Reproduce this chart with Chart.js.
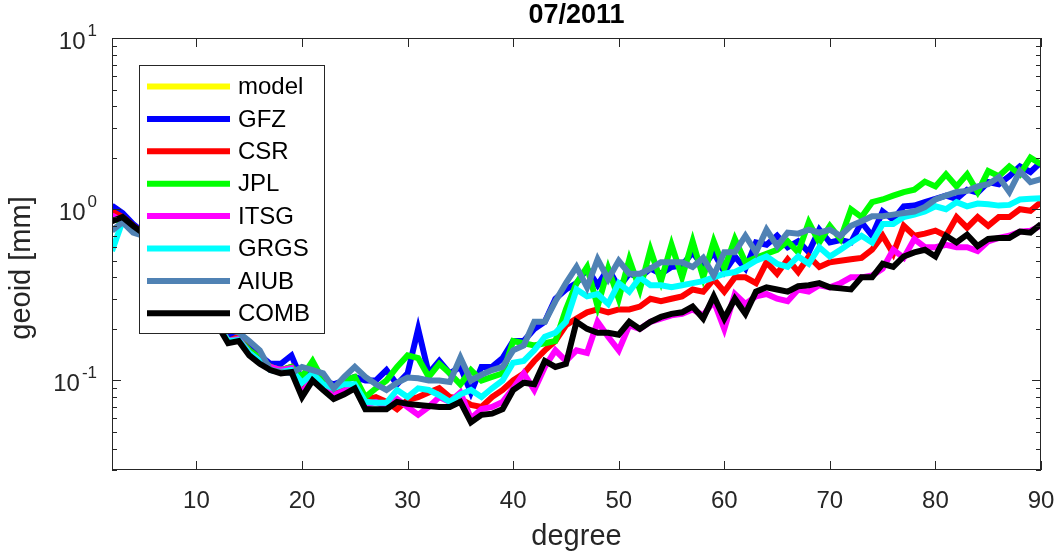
<!DOCTYPE html>
<html>
<head>
<meta charset="utf-8">
<script src="https://cdn.jsdelivr.net/npm/chart.js@4.4.0/dist/chart.umd.min.js"></script>
<style>
  html, body { margin: 0; padding: 0; background: #fff; }
</style>
</head>
<body>
<canvas id="geoid-chart" width="1056" height="556"></canvas>
<script>
// degree 2..90
const degrees = [
  2, 3, 4, 5, 6, 7, 8, 9,
  10, 11, 12, 13, 14, 15, 16, 17, 18, 19,
  20, 21, 22, 23, 24, 25, 26, 27, 28, 29,
  30, 31, 32, 33, 34, 35, 36, 37, 38, 39,
  40, 41, 42, 43, 44, 45, 46, 47, 48, 49,
  50, 51, 52, 53, 54, 55, 56, 57, 58, 59,
  60, 61, 62, 63, 64, 65, 66, 67, 68, 69,
  70, 71, 72, 73, 74, 75, 76, 77, 78, 79,
  80, 81, 82, 83, 84, 85, 86, 87, 88, 89,
  90
]

// model curve is not visible in the figure
const model = []

const gfz = [
  1.05, 0.95, 0.82, 0.73, 0.63, 0.53, 0.45, 0.38,
  0.32, 0.27, 0.22, 0.18, 0.185, 0.155, 0.14, 0.125, 0.125, 0.14,
  0.1, 0.115, 0.1, 0.095, 0.1, 0.105, 0.1, 0.1, 0.115, 0.095,
  0.11, 0.2, 0.11, 0.13, 0.11, 0.12, 0.085, 0.12, 0.12, 0.135,
  0.17, 0.17, 0.2, 0.22, 0.3, 0.34, 0.37, 0.45, 0.36, 0.45,
  0.35, 0.42, 0.4, 0.45, 0.42, 0.46, 0.47, 0.56, 0.46, 0.56,
  0.43, 0.53, 0.45, 0.64, 0.62, 0.7, 0.6, 0.65, 0.56, 0.76,
  0.64, 0.66, 0.64, 0.84, 0.7, 0.97, 0.87, 1.04, 1.05, 1.1,
  1.15, 1.2, 1.15, 1.3, 1.25, 1.44, 1.4, 1.56, 1.78, 1.65,
  1.88
]

const csr = [
  0.97, 0.9, 0.8, 0.72, 0.62, 0.52, 0.44, 0.37,
  0.31, 0.26, 0.22, 0.17, 0.18, 0.15, 0.135, 0.12, 0.115, 0.12,
  0.09, 0.11, 0.095, 0.085, 0.09, 0.095, 0.077, 0.08, 0.075, 0.068,
  0.077, 0.08, 0.085, 0.09, 0.08, 0.078, 0.072, 0.07, 0.08, 0.088,
  0.1, 0.11, 0.13, 0.15, 0.17, 0.21, 0.23, 0.25, 0.26, 0.25,
  0.26, 0.26, 0.27, 0.3, 0.29, 0.3, 0.31, 0.34, 0.33, 0.39,
  0.33, 0.4, 0.4, 0.37, 0.49, 0.42, 0.51, 0.43, 0.53, 0.46,
  0.49, 0.5, 0.51, 0.52, 0.58, 0.7, 0.55, 0.8, 0.7, 0.72,
  0.75, 0.7, 0.9, 0.78, 0.9, 0.8, 0.9, 0.9, 1.0, 0.98,
  1.1
]

const jpl = [
  0.88, 0.85, 0.78, 0.72, 0.62, 0.52, 0.44, 0.37,
  0.31, 0.26, 0.22, 0.17, 0.175, 0.15, 0.135, 0.12, 0.115, 0.12,
  0.105, 0.13, 0.1, 0.09, 0.1, 0.105, 0.08, 0.09, 0.1, 0.12,
  0.14, 0.135, 0.105, 0.125, 0.11, 0.095, 0.115, 0.1, 0.105, 0.11,
  0.17, 0.165, 0.16, 0.165, 0.17, 0.26, 0.37, 0.46, 0.27, 0.45,
  0.3, 0.51, 0.34, 0.58, 0.38, 0.62, 0.4, 0.65, 0.4, 0.65,
  0.45, 0.67, 0.49, 0.52, 0.55, 0.58, 0.65, 0.56, 0.84, 0.64,
  0.8, 0.67, 1.0, 0.9, 1.1, 1.14, 1.2, 1.26, 1.3, 1.45,
  1.36, 1.6, 1.36, 1.6, 1.26, 1.67, 1.56, 1.78, 1.6, 2.0,
  1.83
]

const itsg = [
  0.92, 0.85, 0.78, 0.72, 0.62, 0.52, 0.44, 0.37,
  0.31, 0.26, 0.215, 0.17, 0.175, 0.145, 0.13, 0.12, 0.115, 0.118,
  0.083, 0.105, 0.09, 0.082, 0.087, 0.092, 0.072, 0.075, 0.07, 0.078,
  0.07, 0.063, 0.07, 0.08, 0.075, 0.085, 0.06, 0.068, 0.07, 0.075,
  0.09, 0.11, 0.088, 0.12, 0.15, 0.13, 0.15, 0.145, 0.22, 0.18,
  0.15, 0.21, 0.2, 0.22, 0.23, 0.24, 0.245, 0.26, 0.24, 0.29,
  0.2, 0.32, 0.28, 0.31, 0.32, 0.3, 0.29, 0.34, 0.33, 0.36,
  0.35, 0.37, 0.4, 0.4, 0.41, 0.45, 0.58, 0.52, 0.67, 0.6,
  0.6, 0.62, 0.6, 0.6, 0.57, 0.65, 0.68, 0.7, 0.74, 0.75,
  0.8
]

const grgs = [
  0.57, 0.85, 0.78, 0.72, 0.62, 0.52, 0.44, 0.37,
  0.31, 0.26, 0.21, 0.17, 0.172, 0.145, 0.13, 0.115, 0.112, 0.115,
  0.097, 0.11, 0.095, 0.09, 0.095, 0.095, 0.075, 0.074, 0.074, 0.088,
  0.08, 0.09, 0.088, 0.082, 0.075, 0.083, 0.088, 0.08, 0.09, 0.1,
  0.127, 0.13, 0.15, 0.18, 0.19, 0.22, 0.34, 0.31, 0.32, 0.28,
  0.37, 0.33, 0.4, 0.36, 0.36, 0.35, 0.36, 0.37, 0.38, 0.4,
  0.42, 0.43, 0.46, 0.5, 0.53, 0.48, 0.46, 0.53, 0.48, 0.6,
  0.53, 0.58, 0.64, 0.7, 0.64, 0.82, 0.82, 0.9, 0.93, 0.97,
  1.04, 1.0, 1.1, 1.04, 1.08, 1.07, 1.05, 1.06, 1.14, 1.15,
  1.16
]

const aiub = [
  0.75, 0.84, 0.73, 0.7, 0.6, 0.5, 0.43, 0.36,
  0.3, 0.25, 0.22, 0.2, 0.19, 0.17, 0.15, 0.115, 0.112, 0.11,
  0.12, 0.115, 0.11, 0.09, 0.105, 0.12, 0.105, 0.095, 0.088, 0.097,
  0.104, 0.103, 0.1, 0.1, 0.098, 0.136, 0.1, 0.108, 0.115, 0.12,
  0.15, 0.16, 0.22, 0.22, 0.29, 0.37, 0.46, 0.35, 0.51, 0.39,
  0.5, 0.42, 0.42, 0.45, 0.49, 0.49, 0.49, 0.46, 0.52, 0.41,
  0.56, 0.56, 0.7, 0.56, 0.76, 0.61, 0.73, 0.72, 0.76, 0.73,
  0.76, 0.7, 0.8, 0.85, 0.91, 0.91, 0.93, 0.95, 0.97, 1.03,
  1.14, 1.2, 1.26, 1.28, 1.36, 1.4, 1.54, 1.26, 1.67, 1.44,
  1.5
]

const comb = [
  0.85, 0.9, 0.8, 0.72, 0.62, 0.52, 0.44, 0.37,
  0.31, 0.26, 0.21, 0.165, 0.17, 0.14, 0.125, 0.115, 0.11, 0.112,
  0.08, 0.1, 0.088, 0.078, 0.083, 0.09, 0.068, 0.068, 0.068, 0.075,
  0.073, 0.072, 0.071, 0.07, 0.07, 0.075, 0.057, 0.063, 0.064, 0.068,
  0.088, 0.097, 0.095, 0.13, 0.12, 0.125, 0.22, 0.2, 0.19, 0.19,
  0.185, 0.22, 0.2, 0.22, 0.235, 0.245, 0.25, 0.27, 0.23, 0.31,
  0.23, 0.3, 0.245, 0.33, 0.35, 0.34, 0.33, 0.355, 0.36, 0.37,
  0.35, 0.345, 0.34, 0.4, 0.4, 0.48, 0.46, 0.53, 0.56, 0.58,
  0.53, 0.7, 0.64, 0.71, 0.61, 0.67, 0.68, 0.68, 0.74, 0.73,
  0.82
]

const seriesNames = ['model', 'GFZ', 'CSR', 'JPL', 'ITSG', 'GRGS', 'AIUB', 'COMB']
const seriesValues = [model, gfz, csr, jpl, itsg, grgs, aiub, comb]
const seriesColors = ['#ffff00', '#0000ff', '#ff0000', '#00ff00', '#ff00ff', '#00ffff', '#5082b4', '#000000']

const xTicks = [10, 20, 30, 40, 50, 60, 70, 80, 90]
const yTicks = [0.1, 1, 10]
const yTickExps = ['-1', '0', '1']

const xMin = 2, xMax = 90
const yMin = 0.03, yMax = 10

const chartTitle = '07/2011'
const xTitle = 'degree'
const yTitle = 'geoid [mm]'

const axisColor = '#262626'
const fontName = '"Liberation Sans", Arial, Helvetica, sans-serif'

// MATLAB style box, inward ticks, labels, title and legend
const matlabAxes = {
  id: 'matlabAxes',
  afterDatasetsDraw(chart) {
    const { ctx, chartArea: a, scales: { x, y } } = chart
    ctx.save()

    // legend (drawn over the lines)
    const lx = 139, ly = 65, lw = 185, lh = 268
    ctx.fillStyle = '#ffffff'
    ctx.fillRect(lx, ly, lw, lh)
    ctx.strokeStyle = axisColor
    ctx.lineWidth = 1
    ctx.strokeRect(lx + 0.5, ly + 0.5, lw, lh)
    ctx.font = '24px ' + fontName
    ctx.textBaseline = 'middle'
    ctx.textAlign = 'left'
    chart.data.datasets.forEach((ds, i) => {
      const ry = 86.5 + i * 32.4
      ctx.strokeStyle = ds.borderColor
      ctx.lineWidth = 6
      ctx.beginPath()
      ctx.moveTo(147, ry)
      ctx.lineTo(230, ry)
      ctx.stroke()
      ctx.fillStyle = '#000000'
      ctx.fillText(ds.label, 238, ry + 1)
    })

    // axes box
    ctx.strokeStyle = axisColor
    ctx.lineWidth = 1
    ctx.strokeRect(a.left + 0.5, a.top + 0.5, a.right - a.left - 1, a.bottom - a.top - 1)

    ctx.beginPath()
    xTicks.forEach(v => {
      const px = Math.round(x.getPixelForValue(v)) + 0.5
      ctx.moveTo(px, a.bottom)
      ctx.lineTo(px, a.bottom - 9)
      ctx.moveTo(px, a.top)
      ctx.lineTo(px, a.top + 9)
    })
    yTicks.forEach(v => {
      const py = Math.round(y.getPixelForValue(v)) + 0.5
      ctx.moveTo(a.left, py)
      ctx.lineTo(a.left + 9, py)
      ctx.moveTo(a.right, py)
      ctx.lineTo(a.right - 9, py)
    })
    ;[0.01, 0.1, 1].forEach(dec => {
      for (let m = 2; m <= 9; m++) {
        const v = m * dec
        if (v < yMin || v > yMax) continue
        const py = Math.round(y.getPixelForValue(v)) + 0.5
        ctx.moveTo(a.left, py)
        ctx.lineTo(a.left + 5, py)
        ctx.moveTo(a.right, py)
        ctx.lineTo(a.right - 5, py)
      }
    })
    ctx.stroke()

    // tick labels
    ctx.fillStyle = axisColor
    ctx.textBaseline = 'middle'
    ctx.textAlign = 'center'
    ctx.font = '24px ' + fontName
    xTicks.forEach(v => {
      ctx.fillText(String(v), x.getPixelForValue(v), 501)
    })

    ctx.textAlign = 'left'
    yTicks.forEach((v, i) => {
      const py = y.getPixelForValue(v)
      ctx.font = '17px ' + fontName
      const expW = ctx.measureText(yTickExps[i]).width
      ctx.font = '24px ' + fontName
      const baseW = ctx.measureText('10').width
      const x0 = 97 - expW - 2 - baseW
      ctx.fillText('10', x0, py + 4)
      ctx.font = '17px ' + fontName
      ctx.fillText(yTickExps[i], x0 + baseW + 2, py - 7)
    })

    // axis titles
    ctx.textAlign = 'center'
    ctx.font = '29px ' + fontName
    ctx.fillText(xTitle, (a.left + a.right) / 2, 537)
    ctx.save()
    ctx.translate(22, 268)
    ctx.rotate(-Math.PI / 2)
    ctx.fillText(yTitle, 0, 0)
    ctx.restore()

    // title
    ctx.fillStyle = '#000000'
    ctx.font = 'bold 27px ' + fontName
    ctx.fillText(chartTitle, (a.left + a.right) / 2, 16)

    ctx.restore()
  }
}

const ctx = document.getElementById('geoid-chart').getContext('2d')
const geoidChart = new Chart(ctx, {
  type: 'line',
  data: {
    labels: degrees,
    datasets: seriesNames.map((name, i) => ({
      label: name,
      data: seriesValues[i],
      borderColor: seriesColors[i],
      backgroundColor: seriesColors[i],
      borderWidth: 6,
      pointRadius: 0,
      tension: 0,
      fill: false,
      clip: 0,
      order: seriesNames.length - i,
    })),
  },
  options: {
    responsive: false,
    animation: false,
    layout: { padding: { left: 112, right: 15, top: 38, bottom: 86 } },
    scales: {
      x: { type: 'linear', min: xMin, max: xMax, display: false },
      y: { type: 'logarithmic', min: yMin, max: yMax, display: false },
    },
    plugins: {
      legend: { display: false },
      title: { display: false },
      tooltip: { enabled: false },
    },
  },
  plugins: [matlabAxes],
})
</script>
</body>
</html>
